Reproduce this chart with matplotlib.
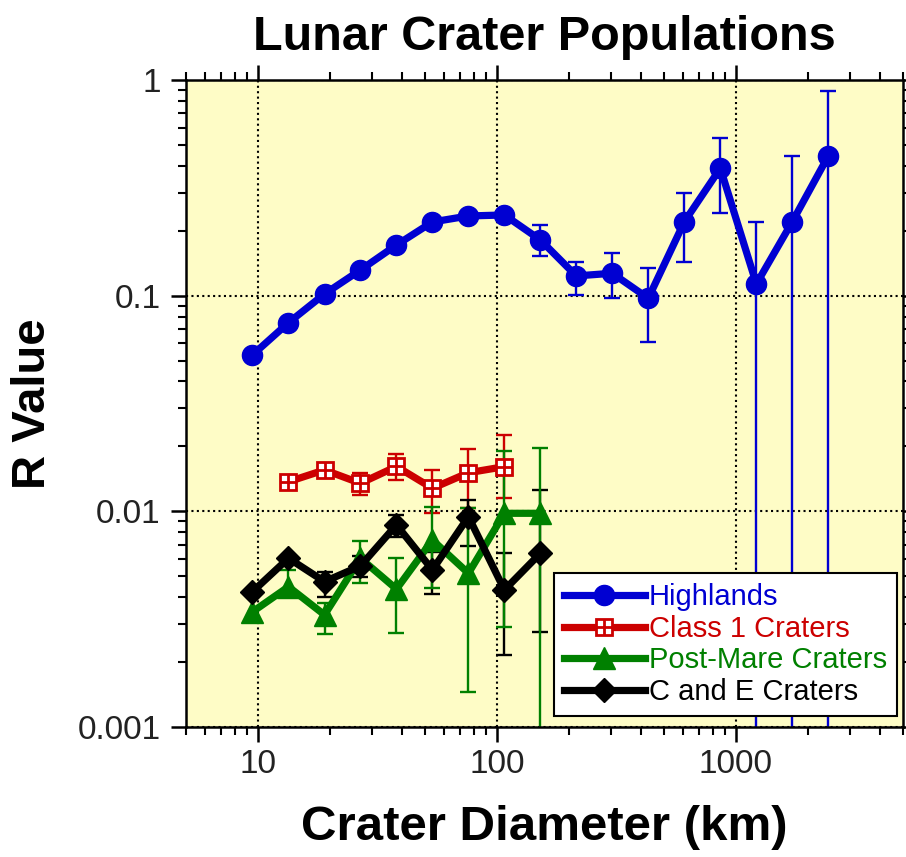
# -*- coding: utf-8 -*-
import numpy as np
import matplotlib
matplotlib.use("Agg")
import matplotlib.pyplot as plt
from matplotlib.ticker import FixedLocator, LogLocator, NullFormatter

# crater diameter bin centres (km), sqrt(2) bins
diam = [9.51, 13.45, 19.03, 26.9, 38.05, 53.8, 76.1, 107.6, 152.2,
        215, 304, 430, 609, 861, 1218, 1722, 2435]

# Highlands
hl_r = [0.0531, 0.0749, 0.1018, 0.1315, 0.1717, 0.2196, 0.2341, 0.2366, 0.1812,
        0.1234, 0.1270, 0.0972, 0.2203, 0.3896, 0.1133, 0.2203, 0.4443]
hl_lo = [None] * 8 + [0.1527, 0.1007, 0.0972, 0.0612, 0.1437, 0.2410, 1e-4, 1e-4, 1e-4]
hl_hi = [None] * 8 + [0.2127, 0.1437, 0.1572, 0.1339, 0.3003, 0.5401, 0.2203, 0.4443, 0.8922]

# Class 1 craters (13.45 .. 107.6 km)
c1_d = diam[1:8]
c1_r = [0.01372, 0.01555, 0.01349, 0.01614, 0.01279, 0.01510, 0.01611]
c1_lo = [None, None, 0.01190, 0.01404, 0.00986, 0.01033, 0.0115]
c1_hi = [None, None, 0.01501, 0.01845, 0.01555, 0.01940, 0.02266]

# Post-Mare craters (9.51 .. 152.2 km)
pm_d = diam[0:9]
pm_r = [0.00342, 0.00447, 0.00331, 0.00606, 0.00436, 0.00736, 0.00516, 0.00979, 0.00979]
pm_lo = [None, 0.00409, 0.00269, 0.00464, 0.00274, 0.00440, 0.00145, 0.00292, 1e-4]
pm_hi = [None, 0.00535, 0.00376, 0.00731, 0.00606, 0.01051, 0.01036, 0.0190, 0.01973]

# C and E craters (9.51 .. 152.2 km)
ce_d = diam[0:9]
ce_r = [0.00424, 0.00606, 0.00472, 0.00558, 0.00865, 0.00535, 0.00944, 0.00432, 0.00639]
ce_lo = [None, None, 0.00402, 0.00498, 0.00763, 0.00414, 0.00693, 0.00216, 0.00275]
ce_hi = [None, None, 0.00525, 0.00620, 0.00962, 0.00650, 0.01129, 0.00639, 0.0125]

labels = ["Highlands", "Class 1 Craters", "Post-Mare Craters", "C and E Craters"]
x_ticks = [10, 100, 1000]
x_labels = ["10", "100", "1000"]
y_ticks = [0.001, 0.01, 0.1, 1]
y_labels = ["0.001", "0.01", "0.1", "1"]

BLUE = "#0000d2"
RED = "#cc0000"
GREEN = "#008000"
BLACK = "#000000"


def errs(ax, x, y, lo, hi, color, z=2):
    # draw only the points that have error bars
    idx = [i for i in range(len(y)) if lo[i] is not None]
    xs = np.array([x[i] for i in idx])
    ys = np.array([y[i] for i in idx])
    l = ys - np.array([lo[i] for i in idx])
    h = np.array([hi[i] for i in idx]) - ys
    ax.errorbar(xs, ys, yerr=[l, h], fmt="none", ecolor=color,
                elinewidth=1.7, capsize=5.5, capthick=1.7, zorder=z)


def main():
    plt.rcParams["font.family"] = ["Liberation Sans", "DejaVu Sans"]
    fig = plt.figure(figsize=(9.06, 8.57), dpi=100)
    ax = fig.add_axes([0.205, 0.1517, 0.7917, 0.755])
    ax.set_facecolor("#fefcc6")
    ax.set_xscale("log")
    ax.set_yscale("log")

    lw = 5.2
    # Highlands
    errs(ax, diam, hl_r, hl_lo, hl_hi, BLUE)
    h1, = ax.plot(diam, hl_r, "-o", color=BLUE, lw=lw, ms=14.5, zorder=3)

    # Class 1 (square with a cross inside)
    errs(ax, c1_d, c1_r, c1_lo, c1_hi, RED)
    h2, = ax.plot(c1_d, c1_r, "-s", color=RED, lw=lw, ms=12, mfc="white",
                  mec=RED, mew=2, zorder=3)
    h2p, = ax.plot(c1_d, c1_r, "+", color=RED, ms=12, mew=2, zorder=3.1)

    # C and E / Post-Mare
    errs(ax, ce_d, ce_r, ce_lo, ce_hi, BLACK, z=2.1)
    errs(ax, pm_d, pm_r, pm_lo, pm_hi, GREEN, z=2.2)
    h3, = ax.plot(pm_d, pm_r, "-^", color=GREEN, lw=lw, ms=16, zorder=3)
    h4, = ax.plot(ce_d, ce_r, "-D", color=BLACK, lw=lw, ms=12.5, zorder=3.2)

    ax.set_xlim(5, 5000)
    ax.set_ylim(0.001, 1)

    # 目盛
    ax.xaxis.set_major_locator(FixedLocator(x_ticks))
    ax.set_xticklabels(x_labels)
    ax.yaxis.set_major_locator(FixedLocator(y_ticks))
    ax.set_yticklabels(y_labels)
    ax.xaxis.set_minor_locator(LogLocator(base=10, subs=np.arange(2, 10)))
    ax.yaxis.set_minor_locator(LogLocator(base=10, subs=np.arange(2, 10)))
    ax.xaxis.set_minor_formatter(NullFormatter())
    ax.yaxis.set_minor_formatter(NullFormatter())

    ax.tick_params(which="major", direction="out", length=11, width=1.8,
                   top=True, right=True, labelsize=24, pad=5,
                   labelcolor="#222222")
    ax.tick_params(which="minor", direction="out", length=6, width=1.5,
                   top=True, right=True)
    ax.tick_params(axis="y", which="major", pad=7)
    for s in ax.spines.values():
        s.set_linewidth(1.8)

    ax.grid(which="major", color="black", linestyle=(0, (1, 1.6)), lw=1.5)
    ax.set_axisbelow(True)

    fig.text(0.6004, 0.9417, "Lunar Crater Populations", ha="center",
             va="baseline", fontsize=35, fontweight="bold")
    ax.set_xlabel("Crater Diameter (km)", fontsize=35.5, fontweight="bold",
                  labelpad=18)
    ax.set_ylabel("R Value", fontsize=34, fontweight="bold", labelpad=16)

    leg = ax.legend([h1, (h2, h2p), h3, h4], labels,
                    loc="lower right", bbox_to_anchor=(0.992, 0.017),
                    borderaxespad=0, fontsize=21, fancybox=False,
                    edgecolor="black", framealpha=1, handlelength=2.75,
                    handletextpad=0.15, labelspacing=0.12, borderpad=0.35)
    leg.get_frame().set_linewidth(1.5)
    for t, c in zip(leg.get_texts(), [BLUE, RED, GREEN, BLACK]):
        t.set_color(c)

    fig.savefig("out.png", dpi=100)


if __name__ == '__main__':
    main()
